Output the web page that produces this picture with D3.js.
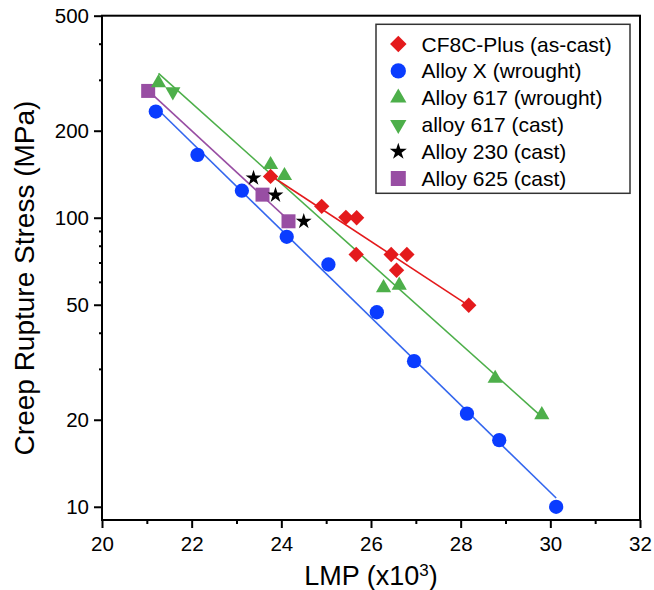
<!DOCTYPE html>
<html>
<head>
<meta charset="utf-8">
<script src="https://cdn.jsdelivr.net/npm/d3@7"></script>
<style>
  html, body { margin: 0; padding: 0; background: #fff; }
  svg { display: block; font-family: "Liberation Sans", Arial, Helvetica, sans-serif; }
</style>
</head>
<body>
<svg id="chart" width="654" height="590"></svg>
<script>
// ---- Data ----
const cf8cX   = [23.76, 24.90, 25.44, 25.68, 25.67, 26.45, 26.80, 26.57, 28.18];
const cf8cY   = [139, 109.5, 100.3, 100, 74.6, 74.6, 74.6, 65.8, 49.8];
const alloyXX = [21.20, 22.13, 23.12, 24.12, 25.05, 26.13, 26.96, 28.14, 28.86, 30.13];
const alloyXY = [233, 165, 124, 85.9, 68.9, 47.1, 31.9, 21.0, 17.0, 10.0];
const a617wX  = [21.26, 23.76, 24.07, 26.28, 26.63, 28.77, 29.81];
const a617wY  = [293, 152.6, 139.8, 57.2, 58.4, 27.8, 20.8];
const a617cX  = [21.58];
const a617cY  = [273];
const a230X   = [23.38, 23.87, 24.50];
const a230Y   = [137.2, 119.7, 97.1];
const a625X   = [21.03, 23.58, 24.16];
const a625Y   = [274.6, 120.2, 97.2];

const seriesNames = ["CF8C-Plus (as-cast)", "Alloy X (wrought)", "Alloy 617 (wrought)",
                     "alloy 617 (cast)", "Alloy 230 (cast)", "Alloy 625 (cast)"];
const xTickLabels = [20, 22, 24, 26, 28, 30, 32];
const xMinorTicks = [21, 23, 25, 27, 29, 31];
const yTickLabels = [10, 20, 50, 100, 200, 500];
const yMinorTicks = [30, 40, 60, 70, 80, 90, 300, 400];

// ---- Styles ----
const series = [
  { name: seriesNames[5], xs: a625X,   ys: a625Y,   color: "#984ea3", shape: "square",  fit: true },
  { name: seriesNames[1], xs: alloyXX, ys: alloyXY, color: "#0a3cff", line: "#3366ee", shape: "circle", fit: true },
  { name: seriesNames[2], xs: a617wX,  ys: a617wY,  color: "#4daf4a", shape: "triUp",   fit: true },
  { name: seriesNames[3], xs: a617cX,  ys: a617cY,  color: "#4daf4a", shape: "triDown", fit: false },
  { name: seriesNames[0], xs: cf8cX,   ys: cf8cY,   color: "#e41a1c", shape: "diamond", fit: true },
  { name: seriesNames[4], xs: a230X,   ys: a230Y,   color: "#000000", shape: "star",    fit: false },
];

const L = 102, R = 640, T = 15.7, B = 520;
const x = d3.scaleLinear().domain([20, 32]).range([L, R]);
const y = d3.scaleLog().domain([9, 500]).range([B, T]);

const svg = d3.select("#chart");

function symbolPath(shape, scale) {
  const s = scale || 1;
  switch (shape) {
    case "circle":  return { d: d3.symbol(d3.symbolCircle, 160 * s)(), rot: 0 };
    case "square":  return { d: d3.symbol(d3.symbolSquare, 196 * s)(), rot: 0 };
    case "diamond": return { d: d3.symbol(d3.symbolSquare, 118 * s)(), rot: 45 };
    case "triUp":   return { d: d3.symbol(d3.symbolTriangle, 100 * s)(), rot: 0 };
    case "triDown": return { d: d3.symbol(d3.symbolTriangle, 100 * s)(), rot: 180 };
    case "star":    return { d: d3.symbol(d3.symbolStar, 78 * s)(), rot: 0 };
  }
}

// ---- Fit lines (least squares in log10 space) ----
const gLines = svg.append("g");
series.filter(s => s.fit).forEach(s => {
  const n = s.xs.length;
  const ly = s.ys.map(v => Math.log10(v));
  const mx = d3.mean(s.xs), my = d3.mean(ly);
  let sxy = 0, sxx = 0;
  for (let i = 0; i < n; i++) { sxy += (s.xs[i] - mx) * (ly[i] - my); sxx += (s.xs[i] - mx) ** 2; }
  const b = sxy / sxx, a = my - b * mx;
  const [x0, x1] = d3.extent(s.xs);
  const pts = [x0, x1].map(v => [v, Math.pow(10, a + b * v)]);
  gLines.append("path")
    .attr("d", d3.line().x(d => x(d[0])).y(d => y(d[1]))(pts))
    .attr("fill", "none")
    .attr("stroke", s.line || s.color)
    .attr("stroke-width", 1.6);
});

// ---- Markers ----
const gMarks = svg.append("g");
series.forEach(s => {
  const sym = symbolPath(s.shape);
  s.xs.forEach((xv, i) => {
    gMarks.append("path")
      .attr("d", sym.d)
      .attr("transform", `translate(${x(xv)},${y(s.ys[i])}) rotate(${sym.rot})`)
      .attr("fill", s.color);
  });
});

// ---- Frame & axes ----
svg.append("rect")
  .attr("x", L).attr("y", T).attr("width", R - L).attr("height", B - T)
  .attr("fill", "none").attr("stroke", "#000").attr("stroke-width", 2);

const xAxis = svg.append("g").attr("transform", `translate(0,${B})`)
  .call(d3.axisBottom(x).tickValues(xTickLabels).tickSize(8).tickPadding(8).tickFormat(d3.format("d")));
const xMinor = svg.append("g").attr("transform", `translate(0,${B})`)
  .call(d3.axisBottom(x).tickValues(xMinorTicks).tickSize(4).tickFormat(""));
const yAxis = svg.append("g").attr("transform", `translate(${L},0)`)
  .call(d3.axisLeft(y).tickValues(yTickLabels).tickSize(8).tickPadding(5).tickFormat(d3.format("d")));
const yMinor = svg.append("g").attr("transform", `translate(${L},0)`)
  .call(d3.axisLeft(y).tickValues(yMinorTicks).tickSize(3).tickFormat(""));

[xAxis, xMinor, yAxis, yMinor].forEach(g => {
  g.select(".domain").remove();
  g.selectAll(".tick line").attr("stroke", "#000").attr("stroke-width", 2);
  g.selectAll(".tick text").attr("fill", "#000").style("font-size", "20.5px")
    .style("font-family", '"Liberation Sans", Arial, sans-serif');
});

// ---- Axis titles ----
const xt = svg.append("text")
  .attr("x", (L + R) / 2).attr("y", 585)
  .attr("text-anchor", "middle")
  .style("font-size", "27px").attr("fill", "#000");
xt.append("tspan").text("LMP (x10");
xt.append("tspan").text("3").attr("dy", "-0.55em").style("font-size", "17px");
xt.append("tspan").text(")").attr("dy", "0.35em");

svg.append("text")
  .attr("transform", `translate(34,278) rotate(-90)`)
  .attr("text-anchor", "middle")
  .style("font-size", "28px").attr("fill", "#000")
  .text("Creep Rupture Stress (MPa)");

// ---- Legend ----
const legendOrder = [
  { name: seriesNames[0], color: "#e41a1c", shape: "diamond" },
  { name: seriesNames[1], color: "#0a3cff", shape: "circle" },
  { name: seriesNames[2], color: "#4daf4a", shape: "triUp" },
  { name: seriesNames[3], color: "#4daf4a", shape: "triDown" },
  { name: seriesNames[4], color: "#000000", shape: "star" },
  { name: seriesNames[5], color: "#984ea3", shape: "square" },
];
const lg = svg.append("g");
lg.append("rect")
  .attr("x", 376).attr("y", 24.3).attr("width", 254).attr("height", 169)
  .attr("fill", "#fff").attr("stroke", "#333").attr("stroke-width", 1.5);
legendOrder.forEach((s, i) => {
  const cy = 44 + i * 26.9;
  const sym = symbolPath(s.shape, 1.15);
  lg.append("path").attr("d", sym.d)
    .attr("transform", `translate(398.3,${cy}) rotate(${sym.rot})`)
    .attr("fill", s.color);
  lg.append("text").attr("x", 421.5).attr("y", cy).attr("dy", "0.36em")
    .style("font-size", "21px").attr("fill", "#000").text(s.name);
});
</script>
</body>
</html>
